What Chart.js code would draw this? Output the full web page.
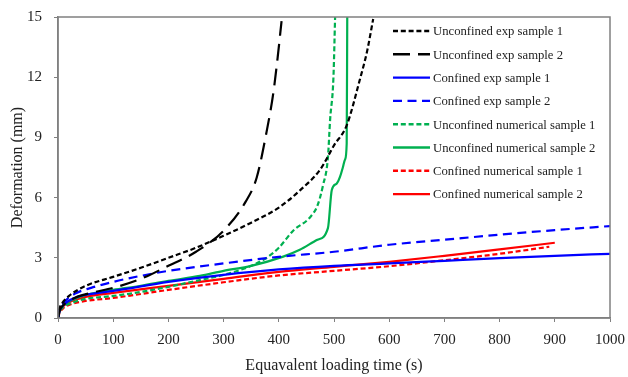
<!DOCTYPE html>
<html>
<head>
<meta charset="utf-8">
<script src="https://cdn.jsdelivr.net/npm/chart.js@4.4.1/dist/chart.umd.min.js"></script>
<style>
  html, body { margin: 0; padding: 0; background: #fff; }
  #wrap { width: 628px; height: 377px; }
</style>
</head>
<body>
<div id="wrap"><canvas id="chart"></canvas></div>
<script>
// ---------------------------------------------------------
// Deformation vs equivalent loading time
// ---------------------------------------------------------

const xTicks = [0, 100, 200, 300, 400, 500, 600, 700, 800, 900, 1000];
const yTicks = [0, 3, 6, 9, 12, 15];

const seriesNames = [
  "Unconfined exp sample 1",
  "Unconfined exp sample 2",
  "Confined exp sample 1",
  "Confined exp sample 2",
  "Unconfined numerical sample 1",
  "Unconfined numerical sample 2",
  "Confined numerical sample 1",
  "Confined numerical sample 2",
];

// [time (s), deformation (mm)]
const unconfinedExp1 = [[0, 0], [2, 0.4], [8, 0.75], [20, 1.1], [50, 1.6], [100, 2.05], [150, 2.5], [200, 3.0], [250, 3.5],
  [300, 4.1], [350, 4.75], [400, 5.5], [438, 6.35], [475, 7.4], [500, 8.6], [523, 9.6], [547, 11.9], [560, 13.3], [571, 14.9]];
const unconfinedExp2 = [[0, 0], [3, 0.35], [10, 0.65], [30, 1.0], [60, 1.25], [100, 1.5], [150, 1.95], [200, 2.6], [250, 3.3],
  [300, 4.35], [340, 5.8], [360, 7.0], [378, 9.3], [390, 11.2], [398, 13.0], [405, 14.8]];
const confinedExp1 = [[0, 0], [3, 0.35], [10, 0.65], [30, 1.0], [60, 1.2], [100, 1.35], [200, 1.8], [300, 2.15], [400, 2.42],
  [500, 2.6], [600, 2.72], [700, 2.85], [800, 2.98], [900, 3.1], [1000, 3.2]];
const confinedExp2 = [[0, 0], [3, 0.4], [10, 0.75], [30, 1.2], [60, 1.5], [100, 1.8], [150, 2.1], [200, 2.35], [300, 2.72],
  [400, 3.05], [500, 3.3], [600, 3.65], [700, 3.9], [800, 4.15], [900, 4.38], [1000, 4.58]];
const unconfinedNum1 = [[0, 0], [3, 0.3], [10, 0.55], [25, 0.75], [50, 0.95], [100, 1.1], [150, 1.3], [200, 1.55], [250, 1.85],
  [300, 2.15], [350, 2.6], [378, 3.0], [400, 3.5], [426, 4.35], [456, 5.0], [470, 5.6], [480, 6.6], [489, 8.0],
  [493, 9.9], [499, 12.0], [502, 15.0]];
const unconfinedNum2 = [[0, 0], [3, 0.35], [10, 0.65], [25, 0.9], [50, 1.15], [100, 1.4], [150, 1.6], [200, 1.85], [257, 2.1],
  [300, 2.35], [350, 2.6], [408, 3.06], [438, 3.4], [470, 3.9], [489, 4.48], [496, 6.38], [505, 6.7], [511, 7.04],
  [516, 7.5], [520, 7.9], [523, 8.7], [524, 15.0]];
const confinedNum1 = [[0, 0], [3, 0.25], [10, 0.5], [25, 0.7], [50, 0.85], [100, 1.0], [200, 1.4], [300, 1.78], [400, 2.12],
  [500, 2.35], [600, 2.58], [700, 2.88], [800, 3.2], [890, 3.55]];
const confinedNum2 = [[0, 0], [3, 0.35], [10, 0.6], [25, 0.85], [50, 1.05], [100, 1.25], [200, 1.6], [300, 1.95], [400, 2.3],
  [500, 2.55], [600, 2.8], [700, 3.1], [800, 3.42], [900, 3.75]];

const seriesData = [unconfinedExp1, unconfinedExp2, confinedExp1, confinedExp2,
  unconfinedNum1, unconfinedNum2, confinedNum1, confinedNum2];

const seriesColors = ["#000000", "#000000", "#0000ff", "#0000ff", "#00b050", "#00b050", "#ff0000", "#ff0000"];
const seriesDash = [[5, 2.8], [17, 8], [], [9, 5.5], [5, 2.8], [], [5, 2.8], []];

const serif = "'Liberation Serif', 'DejaVu Serif', serif";

// frame round the plot area
const frame = {
  id: "frame",
  afterDatasetsDraw(chart) {
    const { ctx, chartArea: a } = chart;
    ctx.save();
    ctx.strokeStyle = "#808080";
    ctx.lineWidth = 1.5;
    ctx.strokeRect(a.left, a.top, a.right - a.left, a.bottom - a.top);
    ctx.restore();
  },
};

// legend drawn inside the plot, top right
const insideLegend = {
  id: "insideLegend",
  afterDraw(chart) {
    const { ctx } = chart;
    const x0 = 393, y0 = 31, rowH = 23.3, lineLen = 37;
    ctx.save();
    ctx.font = "12.7px " + serif;
    ctx.textBaseline = "middle";
    chart.data.datasets.forEach((ds, i) => {
      const y = y0 + i * rowH;
      ctx.strokeStyle = ds.borderColor;
      ctx.lineWidth = 2.4;
      ctx.setLineDash(ds.borderDash || []);
      ctx.beginPath();
      ctx.moveTo(x0, y);
      ctx.lineTo(x0 + lineLen, y);
      ctx.stroke();
      ctx.setLineDash([]);
      ctx.fillStyle = "#222";
      ctx.fillText(ds.label, x0 + lineLen + 3, y + 1);
    });
    ctx.restore();
  },
};

const datasets = seriesNames.map((name, i) => ({
  label: name,
  data: seriesData[i].map(([x, y]) => ({ x, y })),
  borderColor: seriesColors[i],
  borderDash: seriesDash[i],
  borderWidth: 2.2,
  pointRadius: 0,
  fill: false,
  cubicInterpolationMode: "monotone",
}));

new Chart(document.getElementById("chart").getContext("2d"), {
  type: "line",
  data: { datasets },
  plugins: [frame, insideLegend],
  options: {
    responsive: true,
    maintainAspectRatio: false,
    animation: false,
    layout: { padding: { top: 17, right: 18, left: 4, bottom: 0 } },
    plugins: { legend: { display: false }, tooltip: { enabled: false } },
    scales: {
      x: {
        type: "linear",
        min: 0,
        max: 1000,
        afterBuildTicks: (s) => { s.ticks = xTicks.map((v) => ({ value: v })); },
        afterFit: (s) => { s.height = 59; s.paddingLeft = 0; s.paddingRight = 0; },
        grid: { drawOnChartArea: false, tickLength: 4, color: "#808080" },
        border: { color: "#808080", width: 1.5 },
        ticks: { color: "#222", font: { family: serif, size: 15 }, padding: 9, maxRotation: 0, callback: (v) => String(v) },
        title: { display: true, text: "Equavalent loading time (s)", color: "#222", font: { family: serif, size: 16 }, padding: { top: 2, bottom: 2 } },
      },
      y: {
        min: 0,
        max: 15,
        afterBuildTicks: (s) => { s.ticks = yTicks.map((v) => ({ value: v })); },
        afterFit: (s) => { s.width = 54; s.paddingTop = 0; s.paddingBottom = 0; },
        grid: { drawOnChartArea: false, tickLength: 4, color: "#808080" },
        border: { color: "#808080", width: 1.5 },
        ticks: { color: "#222", font: { family: serif, size: 15 }, padding: 12 },
        title: { display: true, text: "Deformation (mm)", color: "#222", font: { family: serif, size: 16 }, padding: { bottom: 0 } },
      },
    },
  },
});
</script>
</body>
</html>
